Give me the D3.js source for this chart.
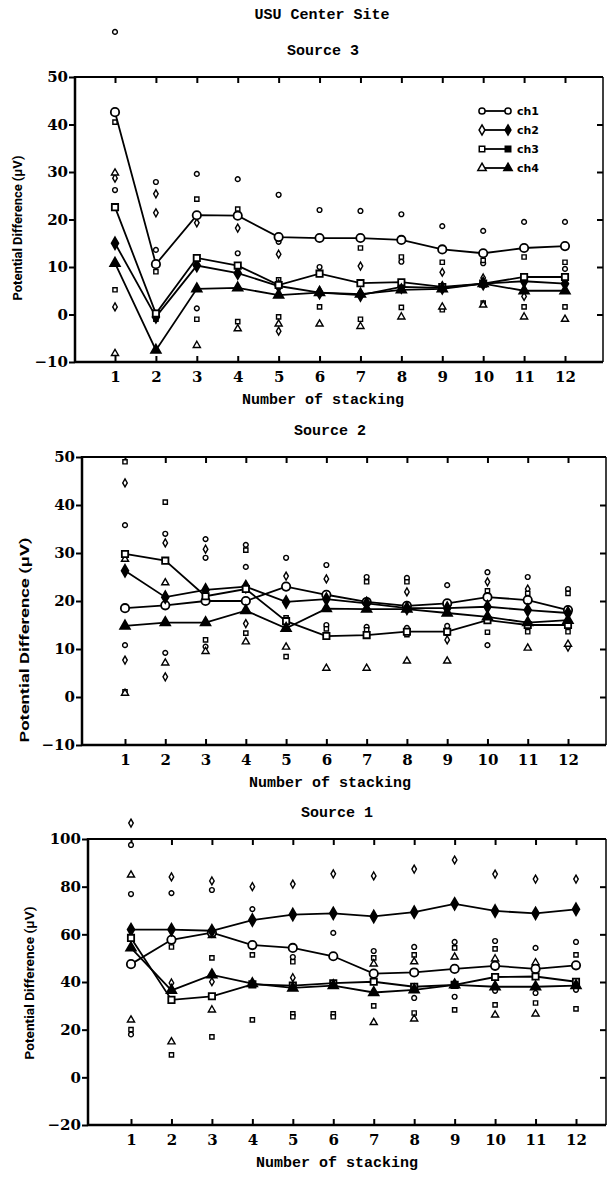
<!DOCTYPE html>
<html>
<head>
<meta charset="utf-8">
<script src="https://cdn.jsdelivr.net/npm/d3@7"></script>
<style>
body{margin:0;background:#fff}
svg{display:block}
.axis path.domain{display:none}
.axis line{stroke:#000;stroke-width:2}
.axis text{font-family:"DejaVu Serif",serif;font-weight:bold;font-size:15px;fill:#000}
.title{font-family:"Liberation Mono",monospace;font-weight:bold;font-size:15px}
.ylab{font-family:Roboto,sans-serif;font-weight:bold;font-size:12px}
.leg{font-family:"DejaVu Sans",sans-serif;font-weight:bold;font-size:11px}
</style>
</head>
<body>
<script>
const stacking = [1,2,3,4,5,6,7,8,9,10,11,12];
const channels = ["ch1","ch2","ch3","ch4"];

// Source 3
const s3Ticks = [50,40,30,20,10,0,-10];
const s3Ch1 = [42.6,10.6,20.9,20.8,16.3,16.1,16.1,15.7,13.7,12.9,14.0,14.4];
const s3Ch2 = [15.0,-0.5,10.3,8.7,6.0,4.6,4.1,5.8,5.6,6.5,7.0,6.5];
const s3Ch3 = [22.6,0.2,11.9,10.3,6.2,8.6,6.6,6.8,5.8,6.5,7.9,7.9];
const s3Ch4 = [10.8,-7.5,5.4,5.6,4.1,4.6,4.3,5.2,5.4,6.5,5.0,5.0];
const s3Pts1 = [[1,59.5],[1,26.2],[2,27.9],[2,13.6],[3,29.6],[3,1.3],[4,28.5],[4,12.9],[5,25.2],[5,15.3],[6,22.0],[6,10.0],[7,21.8],[8,21.1],[8,11.1],[9,18.6],[10,17.6],[10,10.8],[11,19.5],[12,19.5],[12,9.6]];
const s3Pts2 = [[1,28.7],[1,1.6],[2,25.4],[2,21.4],[3,19.3],[4,18.2],[5,12.7],[5,-3.5],[7,10.2],[9,8.9],[10,7.7],[11,3.8]];
const s3Pts3 = [[1,40.5],[1,5.2],[2,9.0],[2,-1.0],[3,24.3],[3,-1.0],[4,22.2],[4,-1.5],[5,7.3],[5,-0.5],[6,1.6],[7,14.0],[7,-1.0],[8,12.1],[8,1.5],[9,11.0],[9,1.0],[10,11.4],[10,2.4],[11,12.1],[11,1.6],[12,11.0],[12,1.6]];
const s3Pts4 = [[1,29.8],[1,-8.2],[3,-6.5],[4,-3.0],[5,-2.0],[6,-2.0],[7,-2.5],[8,-0.5],[9,1.6],[10,2.0],[11,-0.5],[12,-1.0]];

// Source 2
const s2Ticks = [50,40,30,20,10,0,-10];
const s2Ch1 = [18.5,19.1,20.0,20.0,23.0,21.3,19.8,19.0,19.5,20.8,20.2,18.1];
const s2Ch2 = [26.3,20.8,22.3,23.0,19.8,20.4,19.5,18.5,18.5,18.8,18.1,17.5];
const s2Ch3 = [29.8,28.4,21.0,22.5,15.8,12.7,12.9,13.6,13.6,16.0,15.0,15.0];
const s2Ch4 = [14.8,15.5,15.5,18.0,14.3,18.4,18.3,18.3,17.5,16.7,15.5,16.0];
const s2Pts1 = [[1,35.8],[1,10.8],[2,34.0],[2,9.2],[3,32.9],[3,29.0],[3,10.5],[4,31.7],[4,27.1],[5,29.0],[6,27.5],[6,15.0],[7,25.0],[7,14.6],[8,24.8],[8,14.4],[9,23.3],[9,14.8],[10,26.0],[10,10.8],[11,25.0],[12,22.5]];
const s2Pts2 = [[1,44.6],[1,7.7],[2,32.1],[2,4.2],[3,30.8],[4,15.3],[5,25.2],[6,24.6],[8,21.9],[9,11.9],[10,24.0],[11,22.5],[12,10.4]];
const s2Pts3 = [[1,49.0],[1,1.1],[2,40.6],[3,11.9],[4,30.6],[4,13.3],[5,16.5],[5,8.4],[6,14.2],[7,24.0],[7,14.0],[8,24.0],[8,13.0],[9,13.3],[10,22.1],[10,13.5],[11,21.6],[11,13.6],[12,21.6],[12,13.6]];
const s2Pts4 = [[1,28.7],[1,0.8],[2,23.8],[2,7.1],[3,9.5],[4,11.5],[5,10.4],[6,6.0],[7,6.0],[8,7.5],[9,7.5],[11,10.2],[12,11.0]];

// Source 1
const s1Ticks = [100,80,60,40,20,0,-20];
const s1Ch1 = [47.5,57.7,60.7,55.5,54.3,50.8,43.5,44.0,45.5,46.8,45.5,47.0];
const s1Ch2 = [62.0,62.0,61.5,66.0,68.3,68.8,67.5,69.3,72.8,69.8,68.8,70.5];
const s1Ch3 = [58.5,32.5,34.0,39.0,38.5,39.5,40.1,38.0,38.8,42.1,42.3,40.1];
const s1Ch4 = [54.3,36.5,43.0,39.3,37.5,38.5,35.6,36.7,38.8,38.0,38.0,38.5];
const s1Pts1 = [[1,97.5],[1,76.9],[1,18.0],[2,77.3],[3,78.6],[4,70.6],[5,50.5],[6,60.6],[7,53.0],[8,54.7],[8,33.3],[9,56.8],[9,33.8],[10,57.2],[10,36.3],[11,54.3],[11,35.4],[12,56.8],[12,36.7]];
const s1Pts2 = [[1,106.7],[2,84.1],[2,39.6],[3,82.4],[3,40.1],[4,80.0],[5,81.1],[5,41.8],[6,85.4],[7,84.5],[8,87.4],[9,91.2],[10,85.3],[11,83.2],[12,83.2]];
const s1Pts3 = [[1,20.0],[2,54.7],[2,9.4],[3,50.1],[3,17.0],[4,51.4],[4,24.1],[5,48.5],[5,26.6],[5,25.4],[6,26.6],[6,25.4],[7,50.1],[7,30.0],[8,51.4],[8,27.0],[9,54.3],[9,28.3],[10,53.9],[10,30.4],[11,31.2],[12,51.4],[12,28.7]];
const s1Pts4 = [[1,84.9],[1,24.1],[2,14.9],[3,59.5],[3,28.3],[7,47.6],[7,23.0],[8,48.5],[8,24.5],[9,50.5],[10,49.7],[10,26.2],[11,48.1],[11,26.6]];

const width = 608, height = 1177;
const svg = d3.select("body").append("svg")
	.attr("width",width)
	.attr("height",height);

svg.append("text")
	.attr("class","title")
	.attr("x",322).attr("y",14)
	.attr("text-anchor","middle")
	.attr("dy","0.35em")
	.text("USU Center Site");

const symbols = [d3.symbolCircle, d3.symbolDiamond, d3.symbolSquare, d3.symbolTriangle];
const minus = d => d < 0 ? "\u2212" + Math.abs(d) : d;

const panels = [
	{title:"Source 3", titleX:323, left:75, right:603, top:77, bottom:362, x1:115, x12:565,
	 ticks:s3Ticks, lines:[s3Ch1,s3Ch2,s3Ch3,s3Ch4], pts:[s3Pts1,s3Pts2,s3Pts3,s3Pts4],
	 ylab:{x:18, cy:228, len:145}, legend:true},
	{title:"Source 2", titleX:330, left:82, right:606, top:457, bottom:745, x1:125, x12:568,
	 ticks:s2Ticks, lines:[s2Ch1,s2Ch2,s2Ch3,s2Ch4], pts:[s2Pts1,s2Pts2,s2Pts3,s2Pts4],
	 ylab:{x:25, cy:640, len:205}, legend:false},
	{title:"Source 1", titleX:337, left:88, right:606, top:839, bottom:1125, x1:131, x12:576,
	 ticks:s1Ticks, lines:[s1Ch1,s1Ch2,s1Ch3,s1Ch4], pts:[s1Pts1,s1Pts2,s1Pts3,s1Pts4],
	 ylab:{x:30, cy:983, len:153}, legend:false}
];

panels.forEach(drawPanel);

function drawPanel(p){
	const x = d3.scaleLinear().domain([1,12]).range([p.x1,p.x12]);
	const y = d3.scaleLinear()
		.domain([p.ticks[p.ticks.length-1], p.ticks[0]])
		.range([p.bottom,p.top]);

	// frame
	const frame = svg.append("g").attr("stroke","#000").attr("fill","none");
	frame.append("line").attr("x1",p.left).attr("x2",p.left).attr("y1",p.top-1).attr("y2",p.bottom+1).attr("stroke-width",2.5);
	frame.append("line").attr("x1",p.left).attr("x2",p.right).attr("y1",p.bottom).attr("y2",p.bottom).attr("stroke-width",2.5);
	frame.append("line").attr("x1",p.left).attr("x2",p.right).attr("y1",p.top).attr("y2",p.top).attr("stroke-width",2);
	frame.append("line").attr("x1",p.right).attr("x2",p.right).attr("y1",p.top).attr("y2",p.bottom).attr("stroke-width",1.5);

	//axes
	svg.append("g").attr("class","axis")
		.attr("transform","translate("+p.left+",0)")
		.call(d3.axisLeft(y).tickValues(p.ticks).tickSize(6).tickPadding(1).tickFormat(minus));
	svg.append("g").attr("class","axis")
		.attr("transform","translate(0,"+p.bottom+")")
		.call(d3.axisBottom(x).tickValues(stacking).tickSize(-6).tickPadding(9));
	svg.append("g").attr("class","axis")
		.attr("transform","translate(0,"+p.top+")")
		.call(d3.axisTop(x).tickValues(stacking).tickSize(-6).tickFormat(""));
	svg.append("g").attr("class","axis")
		.attr("transform","translate("+p.right+",0)")
		.call(d3.axisRight(y).tickValues(p.ticks.slice(1,-1)).tickSize(-6).tickFormat(""));

	// titles
	svg.append("text").attr("class","title")
		.attr("x",p.titleX).attr("y",p.top-27)
		.attr("dy","0.35em").attr("text-anchor","middle")
		.text(p.title);
	svg.append("text").attr("class","title")
		.attr("x",p.titleX).attr("y",p.bottom+37)
		.attr("dy","0.35em").attr("text-anchor","middle")
		.text("Number of stacking");
	svg.append("text").attr("class","ylab")
		.attr("transform","translate("+p.ylab.x+","+p.ylab.cy+") rotate(-90)")
		.attr("text-anchor","middle").attr("dy","0.35em")
		.attr("textLength",p.ylab.len).attr("lengthAdjust","spacingAndGlyphs")
		.text("Potential Difference (\u03bcV)");

	// single measurements
	p.pts.forEach(function(pts,k){
		svg.append("g").selectAll("path")
			.data(pts)
			.enter().append("path")
			.attr("d",d3.symbol().type(symbols[k]).size(k==3?22:18))
			.attr("transform",d=>"translate("+x(d[0])+","+y(d[1])+")")
			.attr("fill","#fff").attr("stroke","#000").attr("stroke-width",1.4);
	});

	// averaged lines
	const line = d3.line().x((d,i)=>x(stacking[i])).y(d=>y(d));
	p.lines.forEach(function(vals,k){
		svg.append("path").datum(vals)
			.attr("d",line)
			.attr("fill","none").attr("stroke","#000").attr("stroke-width",1.8);
	});
	p.lines.forEach(function(vals,k){
		svg.append("g").selectAll("path")
			.data(vals)
			.enter().append("path")
			.attr("d",d3.symbol().type(symbols[k]).size(k==0?55:40))
			.attr("transform",(d,i)=>"translate("+x(stacking[i])+","+y(d)+")")
			.attr("fill",(k==1||k==3)?"#000":"#fff")
			.attr("stroke","#000").attr("stroke-width",1.8);
	});

	if(p.legend){
		const lg = svg.append("g").attr("transform","translate(482,111)");
		channels.forEach(function(c,k){
			const row = lg.append("g").attr("transform","translate(0,"+(k*19)+")");
			row.append("line").attr("x1",0).attr("x2",26).attr("stroke","#000").attr("stroke-width",1.8);
			row.append("path").attr("d",d3.symbol().type(symbols[k]).size(30))
				.attr("fill","#fff").attr("stroke","#000").attr("stroke-width",1.5);
			row.append("path").attr("d",d3.symbol().type(symbols[k]).size(30))
				.attr("transform","translate(26,0)")
				.attr("fill",k==0?"#fff":"#000").attr("stroke","#000").attr("stroke-width",1.5);
			row.append("text").attr("class","leg").attr("x",35).attr("dy","0.35em").text(c);
		});
	}
}
</script>
</body>
</html>
